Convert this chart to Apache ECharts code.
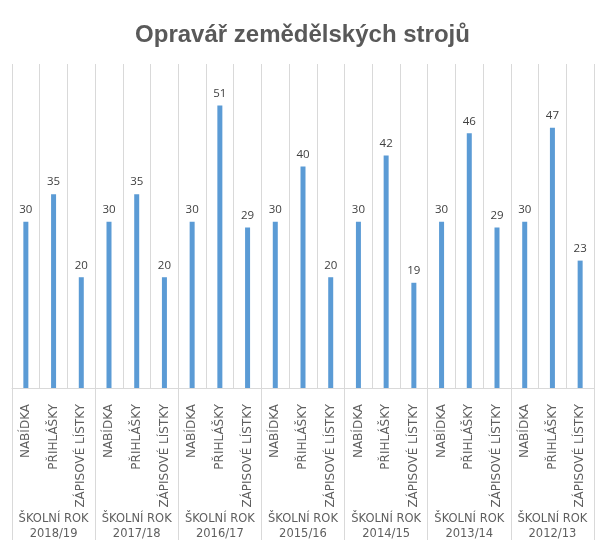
<!DOCTYPE html>
<html><head><meta charset="utf-8">
<script src="https://cdn.jsdelivr.net/npm/echarts@6/dist/echarts.min.js"></script>
<style>html,body{margin:0;padding:0;background:#fff}#c{width:605px;height:553px}</style>
</head><body><div id="c"></div>
<script>
const years = ['2018/19','2017/18','2016/17','2015/16','2014/15','2013/14','2012/13'];
const kinds = ['NABÍDKA','PŘIHLÁŠKY','ZÁPISOVÉ LÍSTKY'];
const nabidka = [30,30,30,30,30,30,30];
const prihlasky = [35,35,51,40,42,46,47];
const zapisove = [20,20,29,20,19,29,23];

const cats = [], vals = [];
years.forEach((y,i)=>{
  kinds.forEach((k,j)=>{ cats.push(k+'|'+i); });
  vals.push(nabidka[i], prihlasky[i], zapisove[i]);
});
const groupLabels = years.map(y=>'ŠKOLNÍ ROK\n'+y);

const chart = echarts.init(document.getElementById('c'));
chart.setOption({
  animation:false,
  title:{text:'Opravář zemědělských strojů', left:'center', top:18,
    textStyle:{fontFamily:'Liberation Sans', fontWeight:'bold', fontSize:24, color:'#595959'}},
  grid:{left:12, right:11, top:64, bottom:165},
  xAxis:[{
    type:'category', data:cats, position:'bottom',
    axisLine:{lineStyle:{color:'#d9d9d9'}},
    axisTick:{show:false},
    splitLine:{show:true, lineStyle:{color:'#d9d9d9'}},
    axisLabel:{interval:0, rotate:90, margin:16, color:'#5f5f5f', fontFamily:'DejaVu Sans', fontSize:12,
      formatter:v=>v.split('|')[0]}
  },{
    type:'category', data:groupLabels, position:'bottom',
    axisLine:{show:false},
    axisTick:{show:true, length:152, lineStyle:{color:'#d9d9d9'}},
    axisLabel:{interval:0, margin:124, color:'#5f5f5f', fontFamily:'DejaVu Sans', fontSize:11.5, lineHeight:15}
  }],
  yAxis:{type:'value', min:0, max:58.5, show:false, splitLine:{show:false}},
  series:[{
    type:'bar', data:vals, barWidth:5, itemStyle:{color:'#5B9BD5'},
    label:{show:true, position:'top', distance:6, color:'#404040', fontFamily:'Open Sans', fontSize:11.5}
  }]
});
</script></body></html>
